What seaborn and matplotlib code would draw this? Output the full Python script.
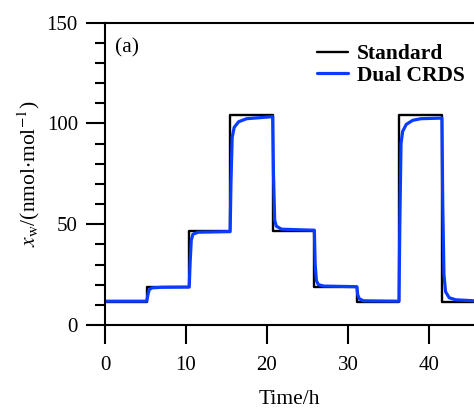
import matplotlib
matplotlib.use("Agg")
import matplotlib.pyplot as plt
import seaborn as sns
import pandas as pd
from matplotlib.ticker import MultipleLocator

# Standard (step) series
standard_t = [0, 5.15, 10.4, 15.45, 20.7, 25.85, 31.1, 36.3, 41.6, 45.6]
standard_v = [11.5, 19.0, 46.8, 104.0, 46.8, 18.8, 11.5, 104.0, 11.5, 11.5]

dual_t = [0, 5.15, 5.3, 5.45, 5.8, 7.0, 10.4,
          10.5, 10.65, 10.85, 11.5, 15.45,
          15.55, 15.7, 15.95, 16.5, 17.5, 20.7,
          20.8, 20.95, 21.15, 21.8, 25.85,
          25.95, 26.1, 26.35, 27.0, 31.1,
          31.2, 31.4, 31.9, 36.3,
          36.4, 36.55, 36.75, 37.2, 38.0, 39.0, 41.6,
          41.7, 41.85, 42.05, 42.5, 43.3, 45.6]
dual_v = [11.8, 11.8, 15.0, 17.5, 18.4, 18.7, 18.8,
          30.0, 42.0, 45.0, 46.0, 46.3,
          70.0, 93.0, 98.0, 100.8, 102.3, 103.3,
          75.0, 52.0, 49.0, 47.5, 47.0,
          30.0, 22.0, 20.0, 19.3, 19.0,
          15.0, 13.0, 12.0, 11.8,
          50.0, 90.0, 96.0, 99.5, 101.5, 102.3, 102.6,
          60.0, 25.0, 16.5, 13.5, 12.5, 12.0]

series_names = ["Standard", "Dual CRDS"]
x_ticks = [0, 10, 20, 30, 40]
y_ticks = [0, 50, 100, 150]

sns.set_style("ticks")
plt.rcParams["font.family"] = ["Liberation Serif", "DejaVu Serif"]
plt.rcParams["mathtext.fontset"] = "stix"
plt.rcParams["text.color"] = "black"
plt.rcParams["axes.labelcolor"] = "black"
plt.rcParams["xtick.color"] = "black"
plt.rcParams["ytick.color"] = "black"

fig = plt.figure(figsize=(4.74, 4.12), dpi=100)
ax = fig.add_axes([105/474, 87/412, 1 - 105/474, 302.5/412])

df_std = pd.DataFrame({"t": standard_t, "v": standard_v})
df_dual = pd.DataFrame({"t": dual_t, "v": dual_v})

sns.lineplot(data=df_std, x="t", y="v", ax=ax, color="black", lw=1.7,
             drawstyle="steps-post", estimator=None, sort=False, label=series_names[0])
sns.lineplot(data=df_dual, x="t", y="v", ax=ax, color="#0a3cff", lw=2.3,
             estimator=None, sort=False, label=series_names[1])

ax.set_xlim(0, 45.56)
ax.set_ylim(0, 150)
ax.set_xticks(x_ticks)
ax.set_yticks(y_ticks)
ax.yaxis.set_minor_locator(MultipleLocator(10))

for side in ["left", "bottom", "top"]:
    ax.spines[side].set_linewidth(1.5)
    ax.spines[side].set_color("black")
ax.spines["right"].set_visible(False)

ax.tick_params(axis="both", which="major", direction="out", length=13.5, width=1.5,
               labelsize=15, colors="black")
ax.tick_params(axis="x", which="major", pad=9)
ax.tick_params(axis="y", which="major", pad=6)
ax.tick_params(axis="y", which="minor", direction="out", length=7.5, width=1.5)
ax.tick_params(axis="x", which="minor", length=0)

ax.set_xlabel("Time/h", fontsize=15.5, color="black")
ax.xaxis.set_label_coords(0.5, -0.215)
ax.set_ylabel(r"$x_{\rm w}$/(nmol$\cdot$mol$^{-1}$)", fontsize=15.5, color="black")
ax.yaxis.set_label_coords(-0.172, 0.5)

ax.text(0.027, 0.916, "(a)", transform=ax.transAxes, fontsize=15.5, va="center",
        ha="left", color="black")

leg = ax.legend(loc="upper left", bbox_to_anchor=(212/369, 0.929), frameon=False,
                prop={"weight": "bold", "size": 15.5}, handlelength=1.45,
                handletextpad=0.4, labelspacing=0.07, borderaxespad=0, borderpad=0)
for t in leg.get_texts():
    t.set_color("black")

fig.savefig("out.png", dpi=100)
